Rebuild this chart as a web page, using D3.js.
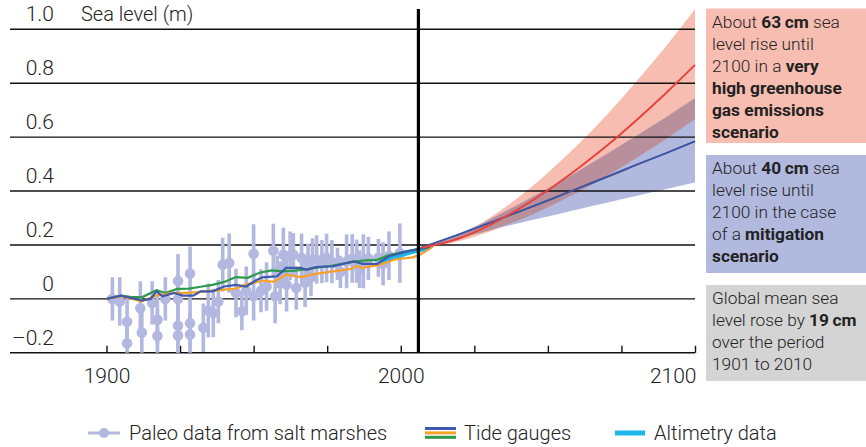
<!DOCTYPE html>
<html>
<head>
<meta charset="utf-8">
<script src="https://cdnjs.cloudflare.com/ajax/libs/d3/7.8.5/d3.min.js"></script>
<style>
  body { margin: 0; background: #fff; }
  svg { display: block; font-family: Roboto, "Liberation Sans", sans-serif; }
  .tick text { font-family: Roboto, "Liberation Sans", sans-serif; }
</style>
</head>
<body>
<svg id="chart" width="866" height="447"></svg>
<script>
// ---- data ----
var yTicks = [-0.2, 0, 0.2, 0.4, 0.6, 0.8, 1.0];
var yTickLabels = ["\u20130.2", "0", "0.2", "0.4", "0.6", "0.8", "1.0"];
var xTicks = [1900, 1925, 1950, 1975, 2000, 2025, 2050, 2075, 2100];
var xTickLabels = ["1900", "", "", "", "2000", "", "", "", "2100"];

// paleo data from salt marshes (year, value, half error bar)
var paleoYears = [1902, 1904.5, 1907, 1907, 1911.5, 1912, 1915.5, 1917.3, 1917.3, 1920,
  1924.3, 1924.3, 1924.3, 1924.3, 1928.4, 1928.4, 1928.4, 1932.9, 1934.6, 1936.3,
  1938, 1939.5, 1941.7, 1944, 1946, 1947.5, 1950, 1950, 1952.5, 1954.4,
  1956.7, 1957.3, 1959, 1960.1, 1961.2, 1962.4, 1963.5, 1964.5, 1966.3, 1967.5,
  1968.5, 1970, 1971.4, 1973.2, 1974.8, 1976.6, 1978.5, 1981.6, 1983.5, 1985,
  1987.3, 1989, 1992.4, 1996, 1999.7, 1958, 1969.5, 1979.5, 1986, 1994];
var paleoValues = [0.0, -0.01, -0.085, -0.165, -0.035, -0.125, -0.015, -0.077, -0.138, 0.0,
  0.066, 0.0, -0.10, -0.136, 0.094, -0.09, -0.132, -0.107, -0.043, -0.052,
  -0.01, 0.127, 0.133, 0.022, -0.046, 0.03, 0.167, 0.01, 0.03, 0.046,
  0.179, 0.01, 0.06, 0.164, 0.053, 0.16, 0.164, 0.04, 0.152, 0.06,
  0.135, 0.145, 0.146, 0.138, 0.152, 0.138, 0.13, 0.139, 0.15, 0.14,
  0.139, 0.15, 0.152, 0.16, 0.17, 0.10, 0.08, 0.10, 0.11, 0.13];
var paleoErrors = [0.08, 0.09, 0.09, 0.07, 0.10, 0.09, 0.08, 0.09, 0.10, 0.08,
  0.10, 0.09, 0.10, 0.09, 0.10, 0.09, 0.08, 0.09, 0.10, 0.09,
  0.08, 0.10, 0.11, 0.09, 0.07, 0.09, 0.11, 0.09, 0.08, 0.09,
  0.10, 0.10, 0.08, 0.10, 0.10, 0.09, 0.08, 0.08, 0.09, 0.09,
  0.07, 0.08, 0.09, 0.08, 0.09, 0.08, 0.06, 0.10, 0.09, 0.08,
  0.10, 0.08, 0.07, 0.09, 0.11, 0.06, 0.07, 0.06, 0.07, 0.08];

// tide gauge reconstructions
var greenYears = [1900, 1905, 1908, 1912, 1917, 1920, 1924, 1928, 1932, 1936, 1940, 1944, 1948, 1952,
  1956, 1960, 1964, 1968, 1972, 1976, 1980, 1984, 1988, 1992, 1996, 2000, 2004, 2008, 2010];
var greenValues = [0, 0.012, 0.008, 0.006, 0.032, 0.022, 0.037, 0.038, 0.045, 0.052, 0.063, 0.081, 0.078, 0.097,
  0.106, 0.102, 0.105, 0.11, 0.117, 0.122, 0.13, 0.138, 0.143, 0.145, 0.163, 0.172, 0.18, 0.188, 0.193];

var orangeYears = [1900, 1905, 1912, 1917, 1923, 1928, 1934, 1940, 1944, 1948, 1950, 1953, 1957, 1961,
  1966, 1971, 1977, 1983, 1985, 1987, 1993, 1998, 2004, 2006.5, 2009, 2011];
var orangeValues = [0, 0.01, -0.009, 0.013, 0.022, 0.022, 0.028, 0.034, 0.038, 0.056, 0.059, 0.068, 0.063, 0.09,
  0.081, 0.093, 0.102, 0.111, 0.121, 0.115, 0.127, 0.146, 0.154, 0.164, 0.18, 0.195];

var blueYears = [1900, 1905, 1908, 1912, 1915, 1917, 1919, 1923, 1926, 1929.5, 1932, 1936, 1940, 1944,
  1947.5, 1951, 1953, 1958, 1961, 1966, 1968, 1971, 1977, 1984, 1987, 1992, 1996, 2002, 2006.5, 2010];
var blueValues = [0, 0.012, 0.004, -0.006, 0.0, 0.028, 0.01, 0.022, 0.012, 0.012, 0.028, 0.028, 0.046, 0.052,
  0.046, 0.07, 0.08, 0.084, 0.115, 0.115, 0.108, 0.118, 0.121, 0.139, 0.13, 0.13, 0.158, 0.176, 0.186, 0.193];

// satellite altimetry
var altYears = [1993, 1996, 1999, 2002, 2005, 2008, 2010];
var altValues = [0.138, 0.148, 0.16, 0.17, 0.178, 0.186, 0.192];

// projections
var projYears = [2007, 2020, 2030, 2040, 2050, 2060, 2070, 2080, 2090, 2100];
var highMid = [0.19, 0.225, 0.273, 0.333, 0.403, 0.482, 0.568, 0.662, 0.762, 0.868];
var highUpper = [0.19, 0.236, 0.299, 0.377, 0.468, 0.570, 0.682, 0.805, 0.935, 1.074];
var highLower = [0.19, 0.215, 0.249, 0.291, 0.340, 0.395, 0.456, 0.522, 0.592, 0.667];
var lowMid = [0.19, 0.240, 0.281, 0.323, 0.365, 0.409, 0.452, 0.497, 0.540, 0.585];
var lowUpper = [0.19, 0.243, 0.294, 0.350, 0.409, 0.472, 0.537, 0.604, 0.673, 0.744];
var lowLower = [0.19, 0.227, 0.254, 0.281, 0.306, 0.332, 0.357, 0.382, 0.407, 0.432];

var presentYear = 2006;

// ---- drawing ----
var svg = d3.select("#chart");
var x = d3.scaleLinear().domain([1900, 2100]).range([106.5, 695]);
var y = d3.scaleLinear().domain([-0.2, 1.0]).range([352.8, 29.3]);

var col = {
  paleo: "#b2b8df", green: "#2b9a4a", orange: "#f7a02c", blue: "#3f5aa8", cyan: "#1fb6ea",
  redLine: "#e5433c", redBand: "#f7bdb1", blueLine: "#3d53a1", blueBand: "#b2b9df", overlap: "#b98f9c",
  grey: "#d4d4d4", text: "#222"
};

svg.append("defs").append("clipPath").attr("id", "plotclip")
  .append("rect").attr("x", 10).attr("y", 0).attr("width", 685).attr("height", y(-0.2));

//projection bands
function zipPts(years, vals) { return years.map(function (yr, i) { return [yr, vals[i]]; }); }
var band = d3.area()
  .x(function (d) { return x(d.yr); })
  .y0(function (d) { return y(d.lo); })
  .y1(function (d) { return y(d.hi); })
  .curve(d3.curveMonotoneX);
var line = d3.line().x(function (d) { return x(d[0]); }).y(function (d) { return y(d[1]); });

var highBand = projYears.map(function (yr, i) { return { yr: yr, lo: highLower[i], hi: highUpper[i] }; });
var lowBand = projYears.map(function (yr, i) { return { yr: yr, lo: lowLower[i], hi: lowUpper[i] }; });
var overlapBand = projYears.map(function (yr, i) {
  return { yr: yr, lo: Math.max(highLower[i], lowLower[i]), hi: Math.min(highUpper[i], lowUpper[i]) };
});

svg.append("path").attr("d", band(highBand)).attr("fill", col.redBand);
svg.append("path").attr("d", band(lowBand)).attr("fill", col.blueBand);
svg.append("path").attr("d", band(overlapBand)).attr("fill", col.overlap);

//gridlines
svg.append("g").selectAll("line").data(yTicks).enter().append("line")
  .attr("x1", 10).attr("x2", 695)
  .attr("y1", function (d) { return y(d); }).attr("y2", function (d) { return y(d); })
  .attr("stroke", "#111").attr("stroke-width", 1.4);

//y labels
svg.append("g").selectAll("text").data(yTicks).enter().append("text")
  .attr("x", 54).attr("y", function (d) { return y(d) - 8; })
  .attr("text-anchor", "end")
  .attr("font-size", 21).attr("font-weight", 300).attr("fill", col.text)
  .text(function (d, i) { return yTickLabels[i]; });

svg.append("text").attr("x", 81).attr("y", y(1.0) - 8)
  .attr("font-size", 20).attr("font-weight", 300).attr("fill", col.text)
  .text("Sea level (m)");

//x axis, ticks pointing up
var xAxis = d3.axisBottom(x).tickValues(xTicks)
  .tickSizeInner(-7).tickSizeOuter(0).tickPadding(15)
  .tickFormat(function (d, i) { return xTickLabels[i]; });
var gx = svg.append("g").attr("transform", "translate(0," + y(-0.2) + ")").call(xAxis);
gx.select(".domain").remove();
gx.selectAll(".tick line").attr("stroke", "#111").attr("stroke-width", 1.4);
gx.selectAll(".tick text").attr("font-size", 21).attr("font-weight", 300).attr("fill", col.text);
gx.selectAll(".tick text").filter(function (d) { return d === 2100; }).attr("text-anchor", "end").attr("x", 1);

//historic data
var hist = svg.append("g").attr("clip-path", "url(#plotclip)");

var paleo = hist.append("g").selectAll("g").data(paleoYears).enter().append("g");
paleo.append("line")
  .attr("x1", function (d) { return x(d); }).attr("x2", function (d) { return x(d); })
  .attr("y1", function (d, i) { return y(paleoValues[i] + paleoErrors[i]); })
  .attr("y2", function (d, i) { return y(paleoValues[i] - paleoErrors[i]); })
  .attr("stroke", col.paleo).attr("stroke-width", 3.6);
paleo.append("circle")
  .attr("cx", function (d) { return x(d); })
  .attr("cy", function (d, i) { return y(paleoValues[i]); })
  .attr("r", 5.3).attr("fill", col.paleo);

hist.append("path").attr("d", line(zipPts(altYears, altValues)))
  .attr("fill", "none").attr("stroke", col.cyan).attr("stroke-width", 5);
hist.append("path").attr("d", line(zipPts(greenYears, greenValues)))
  .attr("fill", "none").attr("stroke", col.green).attr("stroke-width", 2.2);
hist.append("path").attr("d", line(zipPts(orangeYears, orangeValues)))
  .attr("fill", "none").attr("stroke", col.orange).attr("stroke-width", 2.2);
hist.append("path").attr("d", line(zipPts(blueYears, blueValues)))
  .attr("fill", "none").attr("stroke", col.blue).attr("stroke-width", 2.2);

//projection lines
var smooth = d3.line().x(function (d) { return x(d[0]); }).y(function (d) { return y(d[1]); }).curve(d3.curveMonotoneX);
svg.append("path").attr("d", smooth(zipPts(projYears, lowMid)))
  .attr("fill", "none").attr("stroke", col.blueLine).attr("stroke-width", 2);
svg.append("path").attr("d", smooth(zipPts(projYears, highMid)))
  .attr("fill", "none").attr("stroke", col.redLine).attr("stroke-width", 2);

//present day marker
svg.append("line").attr("x1", x(presentYear)).attr("x2", x(presentYear))
  .attr("y1", 9).attr("y2", y(-0.2))
  .attr("stroke", "#000").attr("stroke-width", 3.2);

//info boxes
var boxes = [
  { top: 8.5, bottom: 143, fill: col.redBand, lines: [
    [["About ", 0], ["63\u2009cm", 1], [" sea", 0]],
    [["level rise until", 0]],
    [["2100 in a ", 0], ["very", 1]],
    [["high greenhouse", 1]],
    [["gas emissions", 1]],
    [["scenario", 1]]] },
  { top: 155, bottom: 273, fill: col.blueBand, lines: [
    [["About ", 0], ["40\u2009cm", 1], [" sea", 0]],
    [["level rise until", 0]],
    [["2100 in the case", 0]],
    [["of a ", 0], ["mitigation", 1]],
    [["scenario", 1]]] },
  { top: 285, bottom: 381, fill: col.grey, lines: [
    [["Global mean sea", 0]],
    [["level rose by ", 0], ["19\u2009cm", 1]],
    [["over the period", 0]],
    [["1901 to 2010", 0]]] }
];

boxes.forEach(function (b) {
  svg.append("rect").attr("x", 706).attr("y", b.top)
    .attr("width", 160).attr("height", b.bottom - b.top).attr("fill", b.fill);
  b.lines.forEach(function (ln, i) {
    var t = svg.append("text").attr("x", 712).attr("y", b.top + 19 + i * 22)
      .attr("font-size", 17.3).attr("fill", col.text);
    ln.forEach(function (part) {
      t.append("tspan").attr("font-weight", part[1] ? 700 : 300).text(part[0]);
    });
  });
});

//legend
var leg = svg.append("g").attr("transform", "translate(0,433)");
leg.append("line").attr("x1", 88).attr("x2", 120).attr("stroke", col.paleo).attr("stroke-width", 3);
leg.append("circle").attr("cx", 104).attr("r", 5).attr("fill", col.paleo);
leg.append("text").attr("x", 129).attr("y", 7).attr("font-size", 20).attr("font-weight", 300)
  .attr("fill", col.text).text("Paleo data from salt marshes");

[col.blue, col.orange, col.green].forEach(function (c, i) {
  leg.append("rect").attr("x", 425).attr("y", -6 + i * 4.4).attr("width", 31).attr("height", 3)
    .attr("fill", c);
});
leg.append("text").attr("x", 464).attr("y", 7).attr("font-size", 20).attr("font-weight", 300)
  .attr("fill", col.text).text("Tide gauges");

leg.append("rect").attr("x", 615).attr("y", -2.5).attr("width", 30).attr("height", 5).attr("fill", col.cyan);
leg.append("text").attr("x", 654).attr("y", 7).attr("font-size", 20).attr("font-weight", 300)
  .attr("fill", col.text).text("Altimetry data");
</script>
</body>
</html>
